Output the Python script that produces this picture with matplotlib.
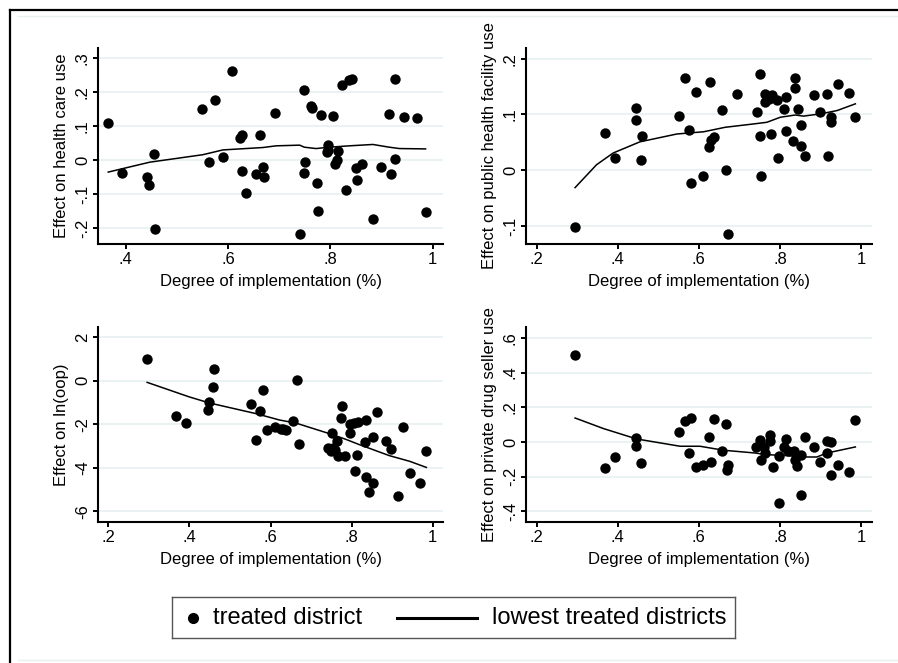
import matplotlib
matplotlib.use('Agg')
import matplotlib.pyplot as plt
from matplotlib.lines import Line2D

plt.rcParams['font.family'] = ['Liberation Sans', 'DejaVu Sans']

# --- health care use (top left)
hc_x = [0.366, 0.392, 0.442, 0.445, 0.455, 0.458, 0.550, 0.563, 0.574, 0.590, 0.607, 0.623, 0.627, 0.627,
        0.635, 0.655, 0.663, 0.668, 0.670, 0.692, 0.740, 0.749, 0.749, 0.751, 0.762, 0.764, 0.774, 0.775,
        0.781, 0.796, 0.796, 0.794, 0.805, 0.809, 0.812, 0.814, 0.822, 0.831, 0.836, 0.842, 0.850, 0.852,
        0.862, 0.883, 0.898, 0.914, 0.918, 0.926, 0.926, 0.943, 0.969, 0.986]
hc_y = [0.109, -0.038, -0.048, -0.073, 0.019, -0.202, 0.150, -0.006, 0.176, 0.009, 0.262, 0.065, 0.075, -0.031,
        -0.096, -0.041, 0.075, -0.019, -0.049, 0.137, -0.217, 0.207, -0.038, -0.004, 0.158, 0.154, -0.068, -0.148,
        0.132, 0.045, 0.030, 0.025, 0.130, -0.011, 0.001, 0.028, 0.219, -0.089, 0.236, 0.239, -0.022, -0.058,
        -0.010, -0.174, -0.021, 0.135, -0.042, 0.238, 0.003, 0.127, 0.125, -0.153]
hc_fit_x = [0.366, 0.447, 0.551, 0.590, 0.668, 0.694, 0.740, 0.749, 0.772, 0.798, 0.837, 0.883, 0.915, 0.935, 0.986]
hc_fit_y = [-0.035, -0.006, 0.016, 0.030, 0.037, 0.042, 0.044, 0.038, 0.034, 0.038, 0.042, 0.046, 0.038, 0.034, 0.033]

# --- public health facility use (top right)
pf_x = [0.295, 0.368, 0.393, 0.445, 0.445, 0.459, 0.458, 0.552, 0.565, 0.576, 0.581, 0.593, 0.610, 0.624,
        0.628, 0.630, 0.638, 0.658, 0.667, 0.672, 0.694, 0.743, 0.751, 0.751, 0.753, 0.764, 0.764, 0.774,
        0.777, 0.780, 0.794, 0.796, 0.809, 0.816, 0.816, 0.833, 0.838, 0.836, 0.845, 0.853, 0.853, 0.863,
        0.883, 0.899, 0.916, 0.919, 0.926, 0.926, 0.943, 0.970, 0.986]
pf_y = [-0.102, 0.066, 0.022, 0.111, 0.090, 0.062, 0.019, 0.097, 0.165, 0.072, -0.023, 0.141, -0.011, 0.041,
        0.159, 0.054, 0.060, 0.108, 0.001, -0.114, 0.137, 0.105, 0.172, 0.061, -0.011, 0.137, 0.122, 0.128,
        0.065, 0.134, 0.126, 0.022, 0.110, 0.131, 0.071, 0.053, 0.166, 0.147, 0.110, 0.081, 0.044, 0.026,
        0.134, 0.105, 0.137, 0.025, 0.095, 0.086, 0.154, 0.138, 0.095]
pf_fit_x = [0.295, 0.348, 0.389, 0.455, 0.546, 0.612, 0.665, 0.735, 0.768, 0.801, 0.838, 0.858, 0.900, 0.941, 0.986]
pf_fit_y = [-0.031, 0.010, 0.031, 0.051, 0.065, 0.069, 0.077, 0.083, 0.086, 0.095, 0.099, 0.097, 0.101, 0.107, 0.119]

# --- ln(oop) (bottom left)
oop_x = [0.296, 0.368, 0.393, 0.445, 0.448, 0.458, 0.460, 0.552, 0.565, 0.575, 0.582, 0.592, 0.610, 0.625,
         0.631, 0.638, 0.655, 0.666, 0.669, 0.742, 0.748, 0.752, 0.754, 0.758, 0.764, 0.766, 0.774, 0.775,
         0.783, 0.795, 0.795, 0.805, 0.807, 0.813, 0.816, 0.832, 0.836, 0.836, 0.843, 0.852, 0.852, 0.862,
         0.884, 0.898, 0.913, 0.926, 0.943, 0.969, 0.984]
oop_y = [1.00, -1.60, -1.95, -1.36, -0.99, -0.30, 0.54, -1.05, -2.70, -1.39, -0.44, -2.28, -2.12, -2.20,
         -2.21, -2.28, -1.84, 0.02, -2.90, -3.09, -3.24, -2.40, -3.09, -3.16, -2.75, -3.47, -1.72, -1.17,
         -3.47, -1.98, -2.40, -1.94, -4.16, -3.43, -1.89, -2.83, -1.78, -4.44, -5.09, -2.58, -4.70, -1.45,
         -2.75, -3.13, -5.31, -2.14, -4.23, -4.71, -3.21]
oop_fit_x = [0.296, 0.400, 0.450, 0.565, 0.622, 0.664, 0.754, 0.787, 0.820, 0.893, 0.943, 0.984]
oop_fit_y = [-0.07, -0.74, -1.02, -1.51, -1.80, -1.95, -2.48, -2.70, -2.94, -3.44, -3.70, -3.98]

# --- private drug seller use (bottom right)
ds_x = [0.295, 0.368, 0.393, 0.445, 0.444, 0.458, 0.552, 0.565, 0.581, 0.576, 0.593, 0.610, 0.624, 0.630,
        0.638, 0.658, 0.667, 0.672, 0.669, 0.741, 0.751, 0.776, 0.776, 0.760, 0.764, 0.754, 0.782, 0.797,
        0.815, 0.811, 0.819, 0.834, 0.836, 0.842, 0.853, 0.862, 0.883, 0.898, 0.916, 0.927, 0.916, 0.927,
        0.943, 0.970, 0.853, 0.797, 0.986]
ds_y = [0.504, -0.150, -0.087, 0.023, -0.025, -0.121, 0.058, 0.121, 0.137, -0.063, -0.142, -0.135, 0.027, -0.115,
        0.133, -0.050, 0.104, -0.131, -0.160, -0.031, 0.013, 0.042, 0.003, -0.029, -0.064, -0.106, -0.147, -0.083,
        0.019, -0.029, -0.054, -0.054, -0.102, -0.137, -0.073, 0.029, -0.031, -0.116, 0.007, -0.002, -0.064, -0.193,
        -0.131, -0.171, -0.304, -0.352, 0.129]
ds_fit_x = [0.295, 0.365, 0.447, 0.554, 0.603, 0.661, 0.739, 0.764, 0.817, 0.850, 0.891, 0.916, 0.986]
ds_fit_y = [0.138, 0.077, 0.017, -0.025, -0.025, -0.048, -0.064, -0.073, -0.079, -0.087, -0.087, -0.064, -0.029]

x_ticks_a = [0.4, 0.6, 0.8, 1.0]
x_labels_a = ['.4', '.6', '.8', '1']
x_ticks_b = [0.2, 0.4, 0.6, 0.8, 1.0]
x_labels_b = ['.2', '.4', '.6', '.8', '1']

hc_yticks = [-0.2, -0.1, 0, 0.1, 0.2, 0.3]
hc_ylabels = ['-.2', '-.1', '0', '.1', '.2', '.3']
pf_yticks = [-0.1, 0, 0.1, 0.2]
pf_ylabels = ['-.1', '0', '.1', '.2']
oop_yticks = [-6, -4, -2, 0, 2]
oop_ylabels = ['-6', '-4', '-2', '0', '2']
ds_yticks = [-0.4, -0.2, 0, 0.2, 0.4, 0.6]
ds_ylabels = ['-.4', '-.2', '0', '.2', '.4', '.6']

W, H = 898, 663
fig = plt.figure(figsize=(W / 100, H / 100), dpi=100)

FS = 12
GRID = '#e9f1f2'


def px_axes(left, top, right, bottom):
    return fig.add_axes([left / W, 1 - bottom / H, (right - left) / W, (bottom - top) / H])


def style(ax, xlim, ylim, xt, xl, yt, yl, ylabel):
    ax.set_xlim(xlim)
    ax.set_ylim(ylim)
    ax.set_xticks(xt)
    ax.set_xticklabels(xl)
    ax.set_yticks(yt)
    ax.set_yticklabels(yl, rotation=90, va='center')
    for s in ['top', 'right']:
        ax.spines[s].set_visible(False)
    for s in ['left', 'bottom']:
        ax.spines[s].set_linewidth(1.5)
    ax.tick_params(direction='out', length=3.8, width=1.4, labelsize=FS, pad=2)
    ax.grid(axis='y', color=GRID, lw=1.3)
    ax.set_axisbelow(True)
    ax.set_xlabel('Degree of implementation (%)', fontsize=FS, labelpad=5)
    ax.set_ylabel(ylabel, fontsize=FS, labelpad=4)


panels = [
    ((98, 48, 443, 244), hc_x, hc_y, hc_fit_x, hc_fit_y, (0.346, 1.02), (-0.246, 0.329),
     x_ticks_a, x_labels_a, hc_yticks, hc_ylabels, 'Effect on health care use'),
    ((526, 48, 872, 244), pf_x, pf_y, pf_fit_x, pf_fit_y, (0.174, 1.027), (-0.132, 0.219),
     x_ticks_b, x_labels_b, pf_yticks, pf_ylabels, 'Effect on public health facility use'),
    ((98, 327, 443, 522), oop_x, oop_y, oop_fit_x, oop_fit_y, (0.175, 1.025), (-6.49, 2.475),
     x_ticks_b, x_labels_b, oop_yticks, oop_ylabels, 'Effect on ln(oop)'),
    ((526, 327, 872, 522), ds_x, ds_y, ds_fit_x, ds_fit_y, (0.174, 1.027), (-0.462, 0.663),
     x_ticks_b, x_labels_b, ds_yticks, ds_ylabels, 'Effect on private drug seller use'),
]

for box, x, y, fx, fy, xlim, ylim, xt, xl, yt, yl, lab in panels:
    ax = px_axes(*box)
    ax.scatter(x, y, s=56, color='black', zorder=3, linewidths=0)
    ax.plot(fx, fy, color='black', lw=1.1, zorder=4)
    style(ax, xlim, ylim, xt, xl, yt, yl, lab)

# legend box drawn by hand (Stata-style layout)
lax = px_axes(172, 597, 735, 638)
lax.set_xlim(0, 563)
lax.set_ylim(0, 41)
lax.set_xticks([])
lax.set_yticks([])
for s in lax.spines.values():
    s.set_color('#555555')
    s.set_linewidth(1.0)
lax.plot([21], [20.5], 'o', color='black', ms=7)
lax.text(41, 20.5, 'treated district', fontsize=17, va='center', ha='left')
lax.plot([225, 305], [20.5, 20.5], color='black', lw=2.2)
lax.text(320, 20.5, 'lowest treated districts', fontsize=17, va='center', ha='left')

# outer frame and faint inner region lines
fig.add_artist(Line2D([9.5 / W, 9.5 / W], [0, 1 - 9.5 / H], color='black', lw=1.6))
fig.add_artist(Line2D([9.5 / W, 1], [1 - 9.5 / H, 1 - 9.5 / H], color='black', lw=1.6))
fig.add_artist(Line2D([18 / W, 1], [1 - 16 / H, 1 - 16 / H], color=GRID, lw=1.0))
fig.add_artist(Line2D([18 / W, 1], [1 - 660 / H, 1 - 660 / H], color=GRID, lw=1.0))

fig.savefig('out.png', dpi=100)
